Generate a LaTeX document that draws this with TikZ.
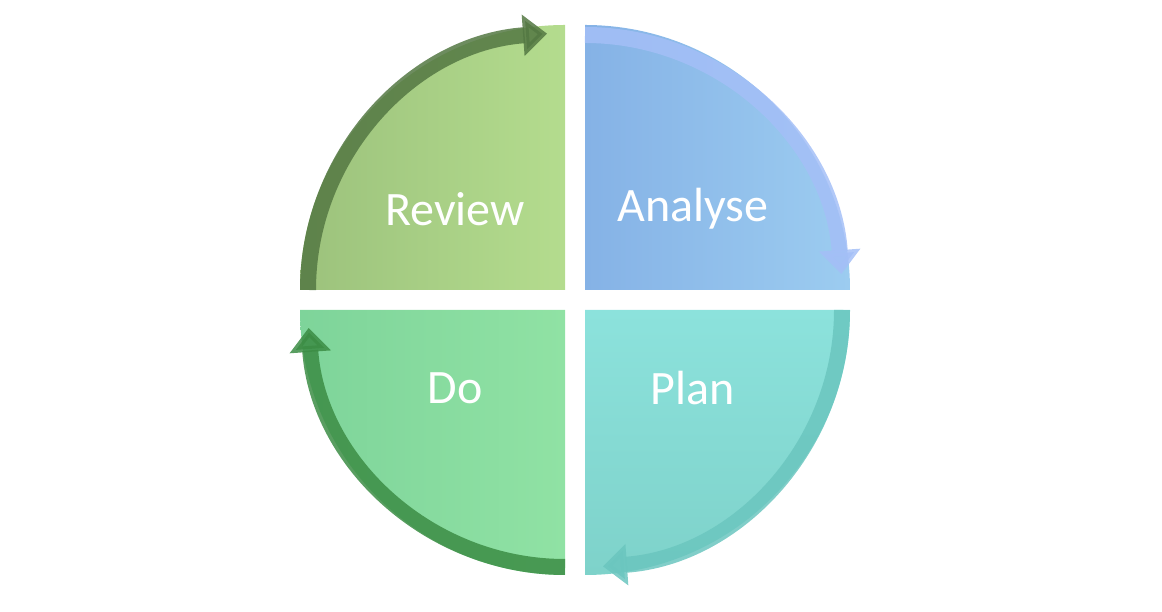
\documentclass[tikz,border=0pt]{standalone}
\usepackage{fontspec}
\setmainfont{Carlito}
\usetikzlibrary{arrows.meta}
\definecolor{rvA}{HTML}{9CC27C}\definecolor{rvB}{HTML}{B4DC8E}
\definecolor{anA}{HTML}{85B2E6}\definecolor{anB}{HTML}{9CCCF0}
\definecolor{plA}{HTML}{8CE2DC}\definecolor{plB}{HTML}{7ED2CA}
\definecolor{doA}{HTML}{7ED49A}\definecolor{doB}{HTML}{90E2A4}
\begin{document}
\begin{tikzpicture}[x=1pt,y=1pt,
  lbl/.style={text=white,font=\fontsize{48}{54}\selectfont},
  band/.style={line width=16pt,opacity=0.85,-{Triangle[width=40pt,length=24pt]}}]
\useasboundingbox (0,0) rectangle (1162,612);
\def\R{265}
% sectors
\shade[left color=anA, right color=anB] (585,322) -- (585,587) arc (90:0:\R) -- cycle;
\shade[left color=rvA, right color=rvB] (565,322) -- (300,322) arc (180:90:\R) -- cycle;
\shade[left color=doA, right color=doB] (565,302) -- (565,37) arc (270:180:\R) -- cycle;
\shade[top color=plA, bottom color=plB] (585,302) -- (850,302) arc (0:-90:\R) -- cycle;
% arrows
\draw[band,draw=anB!80!blue!70!white] (585,577) arc (90:4:257);
\draw[band,draw=plB!85!teal] (842,302) arc (0:-86:257);
\draw[band,draw=doB!70!green!60!black] (565,45) arc (270:184:257);
\draw[band,draw=rvA!90!green!60!black] (308,322) arc (180:94:257);
% labels
\node[lbl] (review) at (455,403) {Review};
\node[lbl] (analyse) at (693,403) {Analyse};
\node[lbl] (do) at (455,224) {Do};
\node[lbl] (plan) at (693,224) {Plan};
\end{tikzpicture}
\end{document}
